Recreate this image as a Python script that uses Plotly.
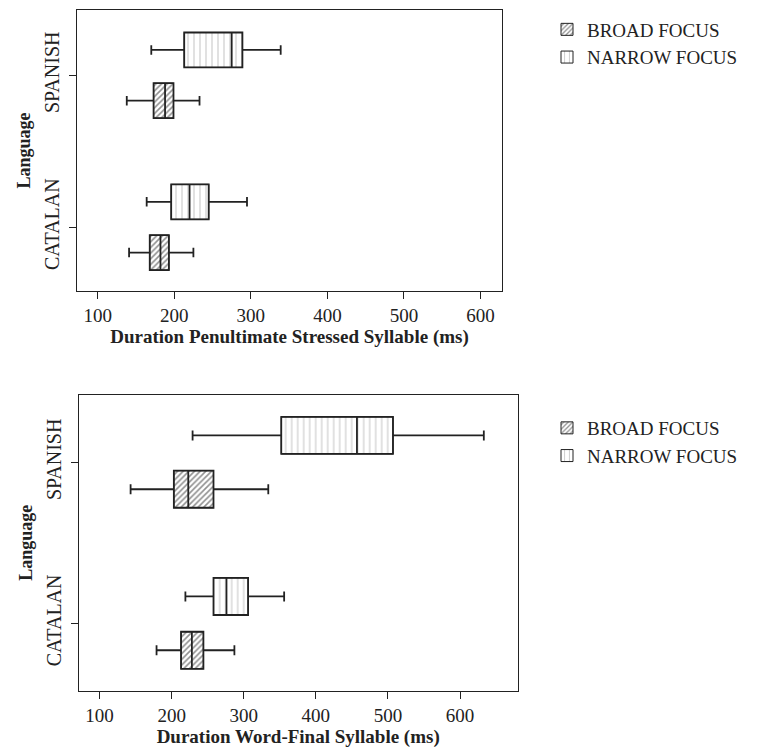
import plotly.graph_objects as go

languages = ["CATALAN", "SPANISH"]
groups = ["BROAD FOCUS", "NARROW FOCUS"]

# Panel 1: Duration Penultimate Stressed Syllable (ms)
p1 = {
    "BROAD FOCUS": dict(low=[141, 138], q1=[168, 173], med=[182, 188], q3=[193, 199], high=[225, 233]),
    "NARROW FOCUS": dict(low=[164, 170], q1=[196, 213], med=[220, 275], q3=[245, 289], high=[295, 339]),
}
# Panel 2: Duration Word-Final Syllable (ms)
p2 = {
    "BROAD FOCUS": dict(low=[179, 143], q1=[213, 203], med=[228, 223], q3=[244, 258], high=[287, 334]),
    "NARROW FOCUS": dict(low=[219, 229], q1=[258, 352], med=[276, 457], q3=[306, 507], high=[356, 633]),
}
x_ticks = [100, 200, 300, 400, 500, 600]
x_titles = ["Duration Penultimate Stressed Syllable (ms)", "Duration Word-Final Syllable (ms)"]

# style / layout constants
group_offset = {"BROAD FOCUS": -0.167, "NARROW FOCUS": 0.167}
BOX_W = 0.23
patterns = {
    "BROAD FOCUS": dict(shape="/", fgcolor="#222222", bgcolor="white", size=4, solidity=0.4),
    "NARROW FOCUS": dict(shape="|", fgcolor="#555555", bgcolor="white", size=6, solidity=0.12),
}
SERIF = "Liberation Serif"
INK = "#222222"

lang_pos = list(range(len(languages)))

fig = go.Figure()
for i, data in enumerate([p1, p2]):
    xa = "x" if i == 0 else "x2"
    ya = "y" if i == 0 else "y2"
    lg = "legend" if i == 0 else "legend2"
    for g in groups:
        d = data[g]
        pos = [p + group_offset[g] for p in lang_pos]
        fig.add_trace(go.Bar(
            y=pos, x=[b - a for a, b in zip(d["q1"], d["q3"])], base=d["q1"], width=BOX_W,
            orientation="h", name=g, legend=lg, xaxis=xa, yaxis=ya,
            marker=dict(color="white", pattern=patterns[g], line=dict(width=1, color=INK)),
            hoverinfo="skip",
        ))
        fig.add_trace(go.Box(
            y=pos, q1=d["q1"], median=d["med"], q3=d["q3"],
            lowerfence=d["low"], upperfence=d["high"], orientation="h",
            name=g, showlegend=False, xaxis=xa, yaxis=ya, width=BOX_W,
            fillcolor="rgba(0,0,0,0)", line=dict(color=INK, width=1.8),
            whiskerwidth=0.27, boxpoints=False,
        ))

# figure is 750x742; the page's body margin places it 8px from the top-left
W, H = 750, 742
dom = [
    dict(x=[69 / W, 494 / W], y=[1 - 283 / H, 1 - 2 / H], xr=[73, 628], yr=[-0.42, 1.43]),
    dict(x=[70.7 / W, 509.7 / W], y=[1 - 683 / H, 1 - 386.7 / H], xr=[71, 680], yr=[-0.42, 1.42]),
]

axis_common = dict(showline=True, linecolor=INK, linewidth=1, mirror=True, ticks="outside",
                   ticklen=7, tickcolor=INK, showgrid=False, zeroline=False,
                   tickfont=dict(family=SERIF, size=19, color=INK))

layout = dict(
    width=W, height=H, margin=dict(l=0, r=0, t=0, b=0),
    paper_bgcolor="white", plot_bgcolor="white",
    barmode="overlay", boxmode="overlay",
    font=dict(family=SERIF, color=INK),
)
for i, dm in enumerate(dom):
    sx = "xaxis" if i == 0 else "xaxis2"
    sy = "yaxis" if i == 0 else "yaxis2"
    layout[sx] = dict(axis_common, domain=dm["x"], range=dm["xr"], anchor="y" if i == 0 else "y2",
                      tickvals=x_ticks,
                      title=dict(text="<b>" + x_titles[i] + "</b>", font=dict(family=SERIF, size=19, color=INK), standoff=2))
    layout[sy] = dict(axis_common, domain=dm["y"], range=dm["yr"], anchor="x" if i == 0 else "x2",
                      tickvals=lang_pos, ticktext=languages, ticklabelstandoff=2,
                      tickangle=-90, tickfont=dict(family=SERIF, size=20, color=INK),
                      title=dict(text="<b>Language</b>", font=dict(family=SERIF, size=18, color=INK), standoff=5))

leg_common = dict(xanchor="left", yanchor="top", bgcolor="rgba(0,0,0,0)",
                  font=dict(family=SERIF, size=19, color=INK), tracegroupgap=0,
                  itemclick=False, traceorder="normal")
layout["legend"] = dict(leg_common, x=539 / W, y=1 - 2.5 / H)
layout["legend2"] = dict(leg_common, x=539 / W, y=1 - 401 / H)

fig.update_layout(**layout)
fig.write_html("out.html")
